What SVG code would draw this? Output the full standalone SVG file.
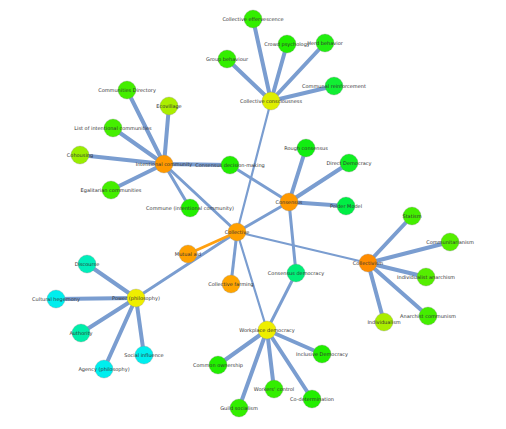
<svg xmlns="http://www.w3.org/2000/svg" width="506" height="429" viewBox="0 0 506 429">
<style>
.e{stroke:#7a9dd0;stroke-linecap:round;fill:none}
.w4{stroke-width:4}
.w3{stroke-width:3}
.w2{stroke-width:2.2}
.o{stroke:#ffa010;stroke-width:3}
.n circle{stroke:#888;stroke-opacity:0.6;stroke-width:0.5}
.n text{font-family:"DejaVu Sans",Verdana,sans-serif;font-size:5px;fill:#333;text-anchor:middle}
</style>
<rect width="506" height="429" fill="#ffffff"/>
<g id="connectors">
<line class="e w4" x1="271" y1="101" x2="253" y2="19"/>
<line class="e w4" x1="271" y1="101" x2="287" y2="44"/>
<line class="e w4" x1="271" y1="101" x2="325" y2="43"/>
<line class="e w4" x1="271" y1="101" x2="227" y2="59"/>
<line class="e w4" x1="271" y1="101" x2="334" y2="86"/>
<line class="e w2" x1="271" y1="101" x2="237" y2="232"/>
<line class="e w4" x1="164" y1="164" x2="127" y2="90"/>
<line class="e w4" x1="164" y1="164" x2="169" y2="106"/>
<line class="e w4" x1="164" y1="164" x2="113" y2="128"/>
<line class="e w4" x1="164" y1="164" x2="80" y2="155"/>
<line class="e w4" x1="164" y1="164" x2="111" y2="190"/>
<line class="e w4" x1="164" y1="164" x2="230" y2="165"/>
<line class="e w3" x1="164" y1="164" x2="190" y2="208"/>
<line class="e w3" x1="164" y1="164" x2="237" y2="232"/>
<line class="e w3" x1="230" y1="165" x2="289" y2="202"/>
<line class="e w4" x1="289" y1="202" x2="306" y2="148"/>
<line class="e w4" x1="289" y1="202" x2="349" y2="163"/>
<line class="e w4" x1="289" y1="202" x2="346" y2="206"/>
<line class="e w3" x1="289" y1="202" x2="237" y2="232"/>
<line class="e w3" x1="289" y1="202" x2="296" y2="273"/>
<line class="e w2" x1="237" y1="232" x2="368" y2="263"/>
<line class="e w3" x1="237" y1="232" x2="231" y2="284"/>
<line class="e w2" x1="237" y1="232" x2="267" y2="330"/>
<line class="e w3" x1="237" y1="232" x2="136" y2="298"/>
<line class="o" x1="237" y1="232" x2="188" y2="254"/>
<line class="e w3" x1="296" y1="273" x2="267" y2="330"/>
<line class="e w4" x1="368" y1="263" x2="412" y2="216"/>
<line class="e w4" x1="368" y1="263" x2="450" y2="242"/>
<line class="e w4" x1="368" y1="263" x2="426" y2="277"/>
<line class="e w4" x1="368" y1="263" x2="428" y2="316"/>
<line class="e w4" x1="368" y1="263" x2="384" y2="322"/>
<line class="e w4" x1="136" y1="298" x2="87" y2="264"/>
<line class="e w4" x1="136" y1="298" x2="56" y2="299"/>
<line class="e w4" x1="136" y1="298" x2="81" y2="333"/>
<line class="e w4" x1="136" y1="298" x2="144" y2="355"/>
<line class="e w4" x1="136" y1="298" x2="104" y2="369"/>
<line class="e w4" x1="267" y1="330" x2="218" y2="365"/>
<line class="e w4" x1="267" y1="330" x2="322" y2="354"/>
<line class="e w4" x1="267" y1="330" x2="274" y2="389"/>
<line class="e w4" x1="267" y1="330" x2="312" y2="399"/>
<line class="e w4" x1="267" y1="330" x2="239" y2="408"/>
</g>
<g id="n1" class="n"><circle cx="253" cy="19" r="9" fill="#33ee00"/><text x="253" y="19" dy="0.35em">Collective effervescence</text></g>
<g id="n2" class="n"><circle cx="287" cy="44" r="9" fill="#22ee00"/><text x="287" y="44" dy="0.35em">Crowd psychology</text></g>
<g id="n3" class="n"><circle cx="325" cy="43" r="9" fill="#22ee11"/><text x="325" y="43" dy="0.35em">Herd behavior</text></g>
<g id="n4" class="n"><circle cx="227" cy="59" r="9" fill="#33ee00"/><text x="227" y="59" dy="0.35em">Group behaviour</text></g>
<g id="n5" class="n"><circle cx="334" cy="86" r="9" fill="#11ee33"/><text x="334" y="86" dy="0.35em">Communal reinforcement</text></g>
<g id="n6" class="n"><circle cx="271" cy="101" r="9" fill="#ddee00"/><text x="271" y="101" dy="0.35em">Collective consciousness</text></g>
<g id="n7" class="n"><circle cx="127" cy="90" r="9" fill="#44ee00"/><text x="127" y="90" dy="0.35em">Communities Directory</text></g>
<g id="n8" class="n"><circle cx="169" cy="106" r="9" fill="#aaee00"/><text x="169" y="106" dy="0.35em">Ecovillage</text></g>
<g id="n9" class="n"><circle cx="113" cy="128" r="9" fill="#44ee00"/><text x="113" y="128" dy="0.35em">List of intentional communities</text></g>
<g id="n10" class="n"><circle cx="80" cy="155" r="9" fill="#99ee00"/><text x="80" y="155" dy="0.35em">Cohousing</text></g>
<g id="n11" class="n"><circle cx="164" cy="164" r="9" fill="#ff9900"/><text x="164" y="164" dy="0.35em">Intentional community</text></g>
<g id="n12" class="n"><circle cx="230" cy="165" r="9" fill="#22ee00"/><text x="230" y="165" dy="0.35em">Consensus decision-making</text></g>
<g id="n13" class="n"><circle cx="111" cy="190" r="9" fill="#44ee00"/><text x="111" y="190" dy="0.35em">Egalitarian communities</text></g>
<g id="n14" class="n"><circle cx="306" cy="148" r="9" fill="#11ee11"/><text x="306" y="148" dy="0.35em">Rough consensus</text></g>
<g id="n15" class="n"><circle cx="349" cy="163" r="9" fill="#11ee22"/><text x="349" y="163" dy="0.35em">Direct Democracy</text></g>
<g id="n16" class="n"><circle cx="289" cy="202" r="9" fill="#ff9900"/><text x="289" y="202" dy="0.35em">Consensus</text></g>
<g id="n17" class="n"><circle cx="346" cy="206" r="9" fill="#00ee44"/><text x="346" y="206" dy="0.35em">Polder Model</text></g>
<g id="n18" class="n"><circle cx="190" cy="208" r="9" fill="#22ee00"/><text x="190" y="208" dy="0.35em">Commune (intentional community)</text></g>
<g id="n19" class="n"><circle cx="237" cy="232" r="9" fill="#ffa000"/><text x="237" y="232" dy="0.35em">Collective</text></g>
<g id="n20" class="n"><circle cx="412" cy="216" r="9" fill="#44ee00"/><text x="412" y="216" dy="0.35em">Statism</text></g>
<g id="n21" class="n"><circle cx="450" cy="242" r="9" fill="#55ee00"/><text x="450" y="242" dy="0.35em">Communitarianism</text></g>
<g id="n22" class="n"><circle cx="368" cy="263" r="9" fill="#ff8c00"/><text x="368" y="263" dy="0.35em">Collectivism</text></g>
<g id="n23" class="n"><circle cx="426" cy="277" r="9" fill="#55ee00"/><text x="426" y="277" dy="0.35em">Individualist anarchism</text></g>
<g id="n24" class="n"><circle cx="428" cy="316" r="9" fill="#44ee00"/><text x="428" y="316" dy="0.35em">Anarchist communism</text></g>
<g id="n25" class="n"><circle cx="384" cy="322" r="9" fill="#aaee00"/><text x="384" y="322" dy="0.35em">Individualism</text></g>
<g id="n26" class="n"><circle cx="188" cy="254" r="9" fill="#ffa000"/><text x="188" y="254" dy="0.35em">Mutual aid</text></g>
<g id="n27" class="n"><circle cx="231" cy="284" r="9" fill="#ffa500"/><text x="231" y="284" dy="0.35em">Collective farming</text></g>
<g id="n28" class="n"><circle cx="296" cy="273" r="9" fill="#00ee77"/><text x="296" y="273" dy="0.35em">Consensus democracy</text></g>
<g id="n29" class="n"><circle cx="87" cy="264" r="9" fill="#00eebb"/><text x="87" y="264" dy="0.35em">Discourse</text></g>
<g id="n30" class="n"><circle cx="56" cy="299" r="9" fill="#00eeee"/><text x="56" y="299" dy="0.35em">Cultural hegemony</text></g>
<g id="n31" class="n"><circle cx="136" cy="298" r="9" fill="#eeee00"/><text x="136" y="298" dy="0.35em">Power (philosophy)</text></g>
<g id="n32" class="n"><circle cx="81" cy="333" r="9" fill="#00eeaa"/><text x="81" y="333" dy="0.35em">Authority</text></g>
<g id="n33" class="n"><circle cx="144" cy="355" r="9" fill="#00eeee"/><text x="144" y="355" dy="0.35em">Social influence</text></g>
<g id="n34" class="n"><circle cx="104" cy="369" r="9" fill="#00eeee"/><text x="104" y="369" dy="0.35em">Agency (philosophy)</text></g>
<g id="n35" class="n"><circle cx="267" cy="330" r="9" fill="#eeee00"/><text x="267" y="330" dy="0.35em">Workplace democracy</text></g>
<g id="n36" class="n"><circle cx="218" cy="365" r="9" fill="#22ee00"/><text x="218" y="365" dy="0.35em">Common ownership</text></g>
<g id="n37" class="n"><circle cx="322" cy="354" r="9" fill="#22ee00"/><text x="322" y="354" dy="0.35em">Inclusive Democracy</text></g>
<g id="n38" class="n"><circle cx="274" cy="389" r="9" fill="#33ee00"/><text x="274" y="389" dy="0.35em">Workers' control</text></g>
<g id="n39" class="n"><circle cx="312" cy="399" r="9" fill="#22ee00"/><text x="312" y="399" dy="0.35em">Co-determination</text></g>
<g id="n40" class="n"><circle cx="239" cy="408" r="9" fill="#33ee00"/><text x="239" y="408" dy="0.35em">Guild socialism</text></g>
</svg>
